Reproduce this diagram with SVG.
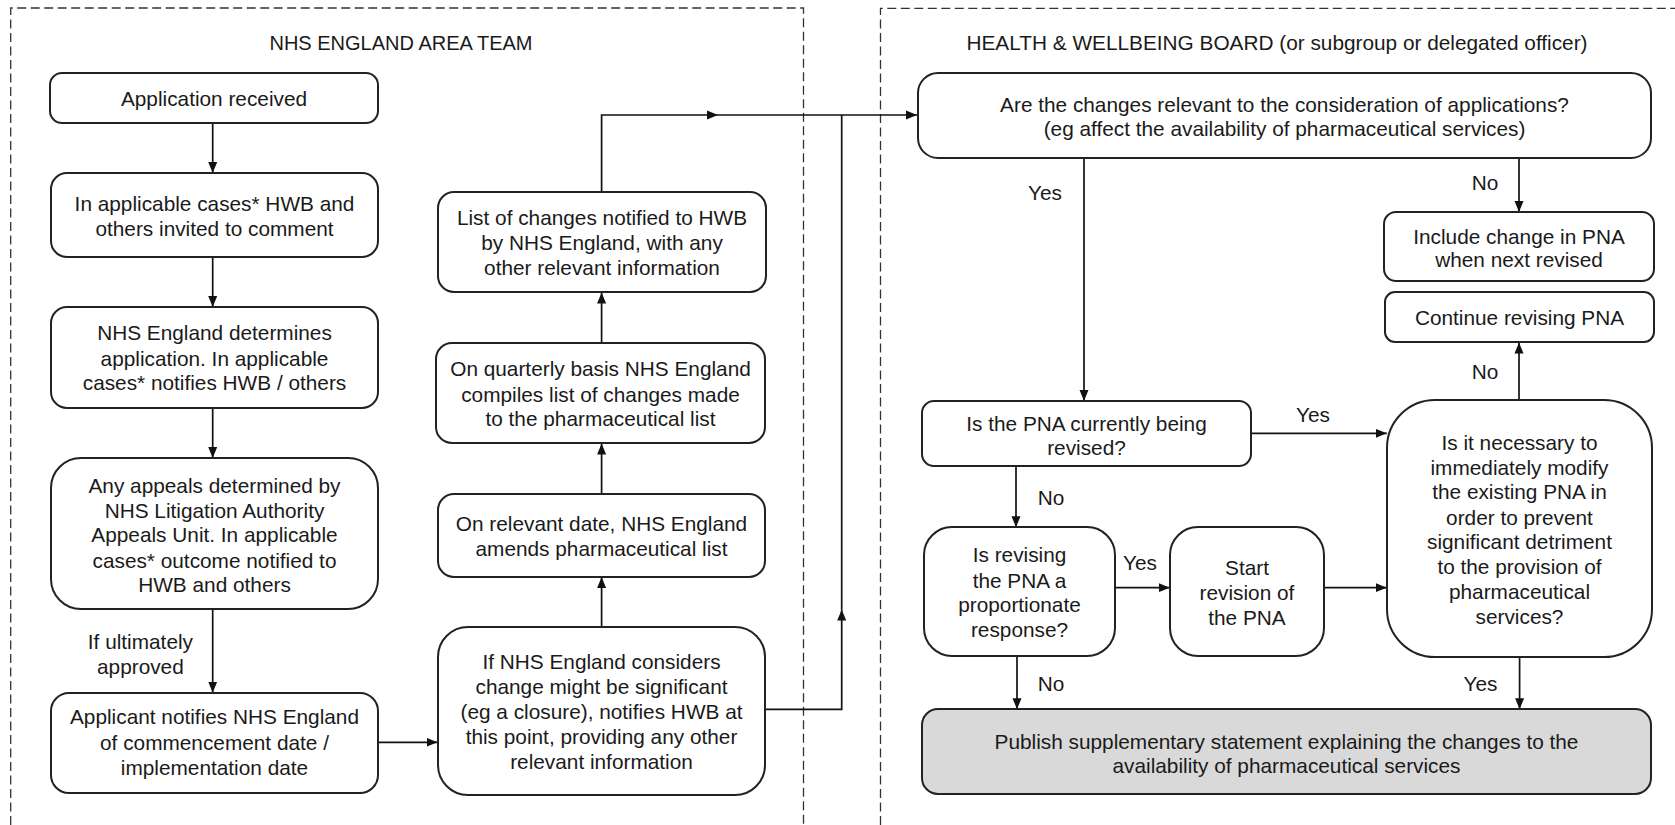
<svg xmlns="http://www.w3.org/2000/svg" width="1675" height="825" viewBox="0 0 1675 825">
<style>
.frame{fill:none;stroke:#333;stroke-width:1.3;stroke-dasharray:9 4.5}
.box{fill:#fff;stroke:#222;stroke-width:2}
.grey{fill:#d9d9d9}
.t{font-family:"Liberation Sans",Arial,sans-serif;font-size:20.8px;fill:#1a1a1a;text-anchor:middle}
.h1{font-size:20px}
.h2{font-size:20.8px}
.c{fill:none;stroke:#111;stroke-width:1.7}
</style>
<defs>
<marker id="ah" markerUnits="userSpaceOnUse" markerWidth="12" markerHeight="10" refX="11" refY="5" orient="auto">
<path d="M0,0.5 L11,5 L0,9.5 Z" fill="#111"/>
</marker>
</defs>
<rect width="1675" height="825" fill="#fff"/>

<g id="frames">
<path class="frame" d="M10.7,825 V8 H803.5 V825"/>
<path class="frame" d="M880.5,825 V8.3 H1675"/>
<text class="t h1" x="401" y="49.5">NHS ENGLAND AREA TEAM</text>
<text class="t h2" x="1277" y="49.5">HEALTH &amp; WELLBEING BOARD (or subgroup or delegated officer)</text>
</g>

<g id="connectors">
<path class="c" d="M212.7,122.7 V173" marker-end="url(#ah)"/>
<path class="c" d="M212.7,256.7 V307" marker-end="url(#ah)"/>
<path class="c" d="M212.7,408.3 V458" marker-end="url(#ah)"/>
<path class="c" d="M212.7,609.3 V692.7" marker-end="url(#ah)"/>
<path class="c" d="M378,742.3 H437.5" marker-end="url(#ah)"/>
<path class="c" d="M601.6,626.7 V577" marker-end="url(#ah)"/>
<path class="c" d="M601.6,494 V443.5" marker-end="url(#ah)"/>
<path class="c" d="M601.6,342.7 V292.5" marker-end="url(#ah)"/>
<path class="c" d="M601.6,192.3 V115 H718" marker-end="url(#ah)"/>
<path class="c" d="M718,115 H917" marker-end="url(#ah)"/>
<path class="c" d="M765,709.3 H841.7 V609.5" marker-end="url(#ah)"/>
<path class="c" d="M841.7,609.5 V115"/>
<path class="c" d="M1084,158.3 V401" marker-end="url(#ah)"/>
<path class="c" d="M1519,158.3 V212" marker-end="url(#ah)"/>
<path class="c" d="M1519,400 V342.5" marker-end="url(#ah)"/>
<path class="c" d="M1251,433.3 H1386.8" marker-end="url(#ah)"/>
<path class="c" d="M1016,466 V527.3" marker-end="url(#ah)"/>
<path class="c" d="M1114.6,587.7 H1169.8" marker-end="url(#ah)"/>
<path class="c" d="M1324,587.7 H1386.8" marker-end="url(#ah)"/>
<path class="c" d="M1017,656 V709.3" marker-end="url(#ah)"/>
<path class="c" d="M1519.6,656.7 V709.3" marker-end="url(#ah)"/>
<text class="t" x="140.4" y="648.7">If ultimately</text>
<text class="t" x="140.4" y="673.7">approved</text>
<text class="t" x="1045" y="199.7">Yes</text>
<text class="t" x="1485" y="190">No</text>
<text class="t" x="1485" y="378.7">No</text>
<text class="t" x="1313" y="422">Yes</text>
<text class="t" x="1051" y="505">No</text>
<text class="t" x="1140" y="570">Yes</text>
<text class="t" x="1051" y="691">No</text>
<text class="t" x="1480.5" y="691">Yes</text>
</g>

<g id="n1">
<rect class="box" x="50" y="73" width="328" height="50" rx="12"/>
<text class="t" x="214" y="106">Application received</text>
</g>
<g id="n2">
<rect class="box" x="51" y="173" width="327" height="84" rx="16"/>
<text class="t" x="214.5" y="211">In applicable cases* HWB and</text>
<text class="t" x="214.5" y="236">others invited to comment</text>
</g>
<g id="n3">
<rect class="box" x="51" y="307" width="327" height="101" rx="16"/>
<text class="t" x="214.5" y="340">NHS England determines</text>
<text class="t" x="214.5" y="365.5">application. In applicable</text>
<text class="t" x="214.5" y="390">cases* notifies HWB / others</text>
</g>
<g id="n4">
<rect class="box" x="51" y="458" width="327" height="151" rx="30"/>
<text class="t" x="214.5" y="493">Any appeals determined by</text>
<text class="t" x="214.5" y="517.5">NHS Litigation Authority</text>
<text class="t" x="214.5" y="542">Appeals Unit. In applicable</text>
<text class="t" x="214.5" y="567.5">cases* outcome notified to</text>
<text class="t" x="214.5" y="592">HWB and others</text>
</g>
<g id="n5">
<rect class="box" x="51" y="693" width="327" height="100" rx="18"/>
<text class="t" x="214.5" y="724.3">Applicant notifies NHS England</text>
<text class="t" x="214.5" y="750.3">of commencement date /</text>
<text class="t" x="214.5" y="775.3">implementation date</text>
</g>
<g id="n6">
<rect class="box" x="438" y="627" width="327" height="168" rx="30"/>
<text class="t" x="601.5" y="669.3">If NHS England considers</text>
<text class="t" x="601.5" y="694">change might be significant</text>
<text class="t" x="601.5" y="719">(eg a closure), notifies HWB at</text>
<text class="t" x="601.5" y="744">this point, providing any other</text>
<text class="t" x="601.5" y="769">relevant information</text>
</g>
<g id="n7">
<rect class="box" x="438" y="494" width="327" height="83" rx="16"/>
<text class="t" x="601.5" y="531">On relevant date, NHS England</text>
<text class="t" x="601.5" y="556.3">amends pharmaceutical list</text>
</g>
<g id="n8">
<rect class="box" x="436" y="343" width="329" height="100" rx="16"/>
<text class="t" x="600.5" y="376">On quarterly basis NHS England</text>
<text class="t" x="600.5" y="402">compiles list of changes made</text>
<text class="t" x="600.5" y="426.3">to the pharmaceutical list</text>
</g>
<g id="n9">
<rect class="box" x="438" y="192" width="328" height="100" rx="16"/>
<text class="t" x="602" y="225">List of changes notified to HWB</text>
<text class="t" x="602" y="250">by NHS England, with any</text>
<text class="t" x="602" y="275">other relevant information</text>
</g>
<g id="n10">
<rect class="box" x="918" y="73" width="733" height="85" rx="20"/>
<text class="t" x="1284.5" y="112">Are the changes relevant to the consideration of applications?</text>
<text class="t" x="1284.5" y="136.3">(eg affect the availability of pharmaceutical services)</text>
</g>
<g id="n11">
<rect class="box" x="1384" y="212" width="270" height="69" rx="12"/>
<text class="t" x="1519" y="243.7">Include change in PNA</text>
<text class="t" x="1519" y="267">when next revised</text>
</g>
<g id="n12">
<rect class="box" x="1385" y="292" width="269" height="50" rx="10"/>
<text class="t" x="1519.5" y="325.3">Continue revising PNA</text>
</g>
<g id="n13">
<rect class="box" x="922" y="401" width="329" height="65" rx="12"/>
<text class="t" x="1086.5" y="431">Is the PNA currently being</text>
<text class="t" x="1086.5" y="455.3">revised?</text>
</g>
<g id="n14">
<rect class="box" x="924" y="527" width="191" height="129" rx="28"/>
<text class="t" x="1019.5" y="562">Is revising</text>
<text class="t" x="1019.5" y="587.7">the PNA a</text>
<text class="t" x="1019.5" y="612">proportionate</text>
<text class="t" x="1019.5" y="637">response?</text>
</g>
<g id="n15">
<rect class="box" x="1170" y="527" width="154" height="129" rx="28"/>
<text class="t" x="1247" y="575.3">Start</text>
<text class="t" x="1247" y="599.7">revision of</text>
<text class="t" x="1247" y="625.3">the PNA</text>
</g>
<g id="n16">
<rect class="box" x="1387" y="400" width="265" height="257" rx="48"/>
<text class="t" x="1519.5" y="450.3">Is it necessary to</text>
<text class="t" x="1519.5" y="474.7">immediately modify</text>
<text class="t" x="1519.5" y="499">the existing PNA in</text>
<text class="t" x="1519.5" y="524.7">order to prevent</text>
<text class="t" x="1519.5" y="549.3">significant detriment</text>
<text class="t" x="1519.5" y="574">to the provision of</text>
<text class="t" x="1519.5" y="599">pharmaceutical</text>
<text class="t" x="1519.5" y="623.7">services?</text>
</g>
<g id="n17">
<rect class="box grey" x="922" y="709" width="729" height="85" rx="16"/>
<text class="t" x="1286.5" y="748.7">Publish supplementary statement explaining the changes to the</text>
<text class="t" x="1286.5" y="773">availability of pharmaceutical services</text>
</g>
</svg>
